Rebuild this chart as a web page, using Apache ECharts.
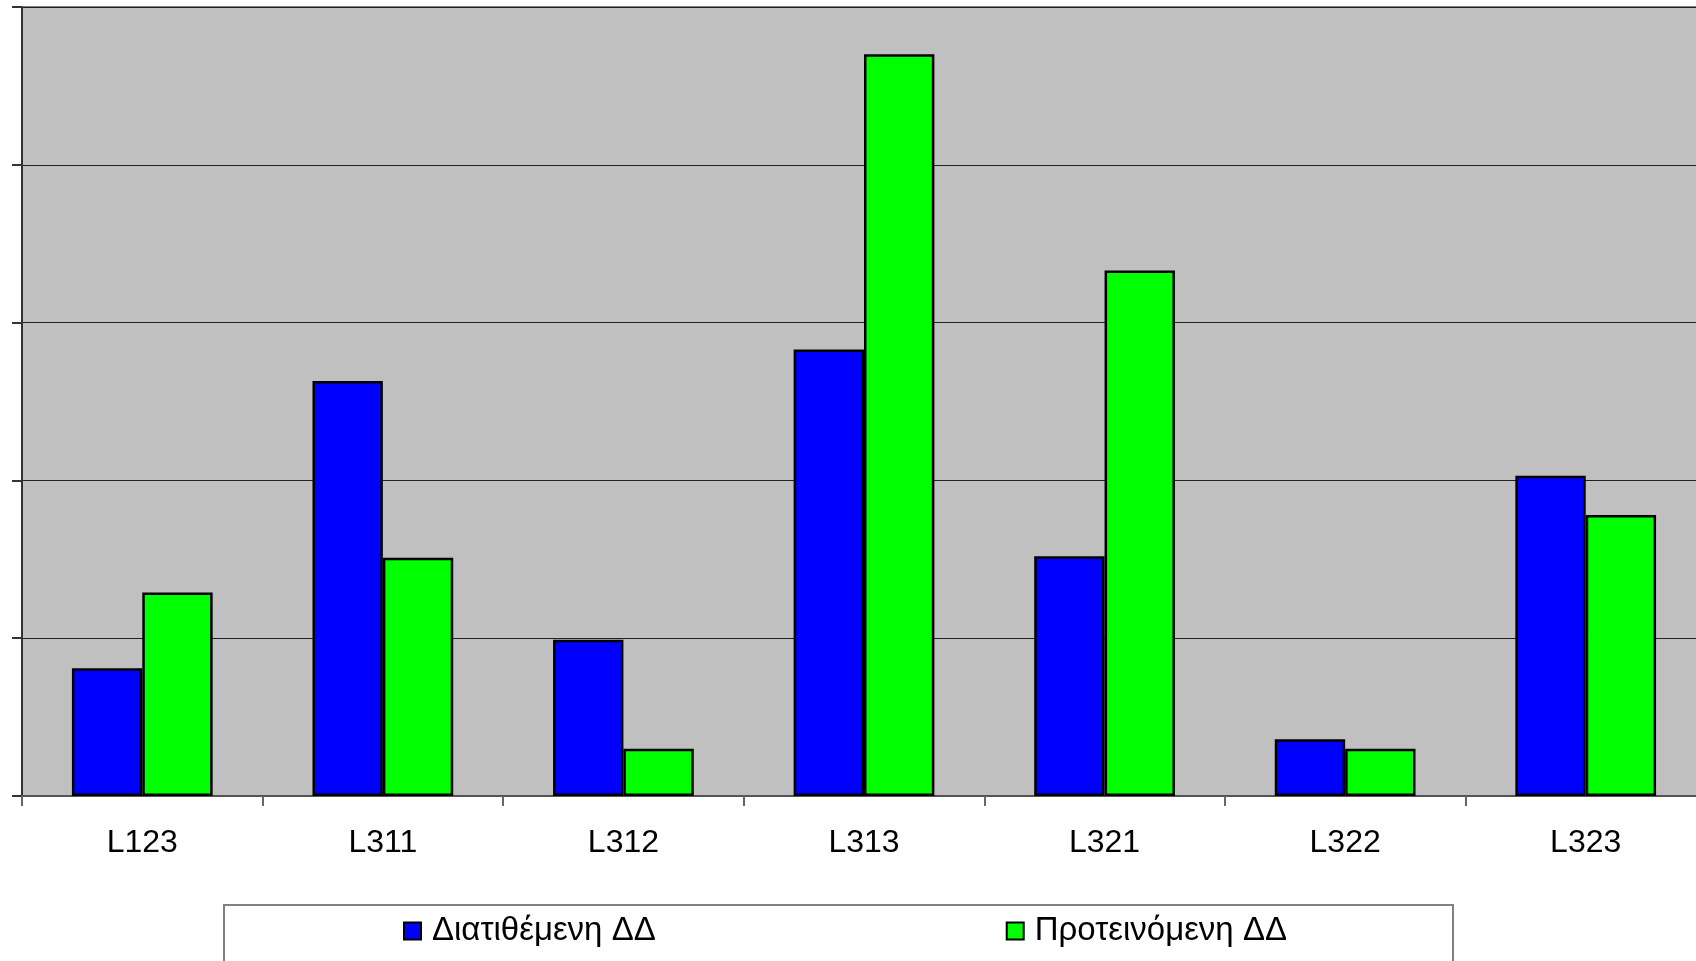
<!DOCTYPE html>
<html>
<head>
<meta charset="utf-8">
<script src="https://cdn.jsdelivr.net/npm/echarts@6/dist/echarts.min.js"></script>
<style>
html,body{margin:0;padding:0;background:#fff;}
#chart{width:1696px;height:961px;}
</style>
</head>
<body>
<div id="chart"></div>
<script>
const categories = ['L123', 'L311', 'L312', 'L313', 'L321', 'L322', 'L323'];
const seriesNames = ['Διατιθέμενη ΔΔ', 'Προτεινόμενη ΔΔ'];
const availableValues = [0.81, 2.63, 0.99, 2.83, 1.52, 0.36, 2.03];
const proposedValues = [1.29, 1.51, 0.30, 4.70, 3.33, 0.30, 1.78];

const chart = echarts.init(document.getElementById('chart'));
const font = '"Liberation Sans", Arial, sans-serif';
chart.setOption({
  animation: false,
  backgroundColor: '#ffffff',
  textStyle: { fontFamily: font },
  grid: {
    left: 22, width: 1684, top: 7, bottom: 165,
    outerBoundsMode: 'none',
    containLabel: false,
    show: true, backgroundColor: '#C0C0C0',
    borderColor: '#808080', borderWidth: 2
  },
  graphic: [{
    type: 'rect',
    shape: { x: 224, y: 905, width: 1229, height: 120 },
    style: { fill: '#ffffff', stroke: '#808080', lineWidth: 2 },
    z: 0
  }],
  legend: {
    left: 403, top: 913,
    padding: 0,
    itemWidth: 17, itemHeight: 17,
    itemGap: 350,
    icon: 'rect',
    data: seriesNames,
    itemStyle: { borderColor: '#000', borderWidth: 2 },
    textStyle: { fontSize: 33, color: '#000', fontFamily: font, lineHeight: 36, padding: [0, 0, 0, 6] },
    z: 5
  },
  xAxis: {
    type: 'category',
    data: categories,
    axisLine: { lineStyle: { color: '#555', width: 2 } },
    axisTick: { show: true, length: 10, lineStyle: { color: '#666', width: 2 } },
    axisLabel: { fontSize: 32, color: '#000', margin: 31, fontFamily: font },
    splitLine: { show: false }
  },
  yAxis: {
    type: 'value',
    min: 0, max: 5, interval: 1,
    axisLine: { show: true, lineStyle: { color: '#333', width: 2 } },
    axisTick: { show: true, length: 10, lineStyle: { color: '#333', width: 2 } },
    axisLabel: { show: false },
    splitLine: { show: true, lineStyle: { color: '#222', width: 1.2 } }
  },
  series: [
    {
      name: seriesNames[0], type: 'bar', data: availableValues,
      barGap: '0%', barCategoryGap: '41.5%',
      itemStyle: { color: '#0000FF', borderColor: '#000', borderWidth: 2.5 }
    },
    {
      name: seriesNames[1], type: 'bar', data: proposedValues,
      barGap: '0%', barCategoryGap: '41.5%',
      itemStyle: { color: '#00FF00', borderColor: '#000', borderWidth: 2.5 }
    }
  ]
});
</script>
</body>
</html>
